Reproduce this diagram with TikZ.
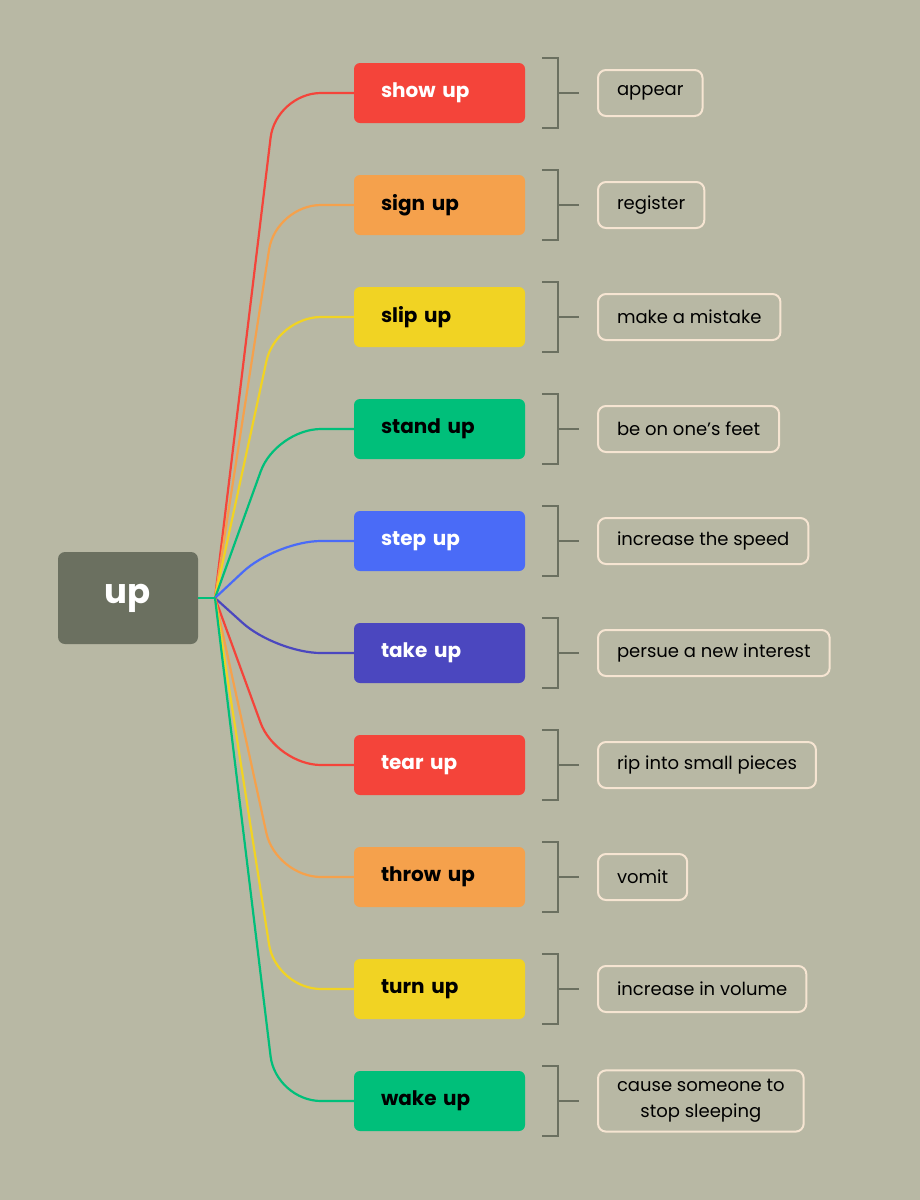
\documentclass[tikz,border=0pt]{standalone}
\usepackage{fontspec}
\setmainfont{Poppins}
\begin{document}
\begin{tikzpicture}[x=1pt,y=-1pt,
  verb/.style={rounded corners=6pt,minimum width=171pt,text width=117pt,align=left,minimum height=60pt,inner xsep=0pt,font=\fontsize{20}{22}\selectfont\bfseries},
  mean/.style={draw=meanc,line width=2pt,rounded corners=8pt,minimum height=46pt,inner xsep=19pt,inner ysep=9pt,font=\fontsize{18}{26}\selectfont,anchor=west,align=center},
  brk/.style={draw=rootc,line width=2.5pt},
  conn/.style={line width=2.2pt}]
\definecolor{bg}{HTML}{B8B8A4}
\definecolor{rootc}{HTML}{6B7060}
\definecolor{meanc}{HTML}{F6E5D2}
\definecolor{cR}{HTML}{F4443A}
\definecolor{cO}{HTML}{F5A14C}
\definecolor{cY}{HTML}{F1D323}
\definecolor{cG}{HTML}{00BF7A}
\definecolor{cB}{HTML}{4A6BF7}
\definecolor{cI}{HTML}{4B47BF}
\fill[bg] (0,0) rectangle (920,1200);
\node[fill=rootc,rounded corners=7pt,minimum width=140pt,minimum height=92pt,text=white,font=\fontsize{34}{38}\selectfont\bfseries] (root) at (128,598) {up};
\coordinate (hub) at (215,598);
\foreach \i/\v/\c/\t/\m/\y in {
 1/show up/cR/white/appear/93,
 2/sign up/cO/black/register/205,
 3/slip up/cY/black/make a mistake/317,
 4/stand up/cG/black/be on one’s feet/429,
 5/step up/cB/white/increase the speed/541,
 6/take up/cI/white/persue a new interest/653,
 7/tear up/cR/white/rip into small pieces/765,
 8/throw up/cO/black/vomit/877,
 9/turn up/cY/black/increase in volume/989,
 10/wake up/cG/black/{cause someone to\\stop sleeping}/1101}{
  \node[verb,fill=\c,text=\t] (v\i) at (439.5,\y) {\v};
  \draw[conn,draw=\c,rounded corners=45pt] (hub) -- (276,\y) -- (v\i.west);
  \draw[brk] (542,\y-35) -- (558,\y-35) -- (558,\y+35) -- (542,\y+35);
  \draw[brk] (558,\y) -- (579,\y);
  \node[mean] (m\i) at (597,\y) {\m};
}
\draw[conn,draw=cG] (root.east) -- (hub);
\end{tikzpicture}
\end{document}
